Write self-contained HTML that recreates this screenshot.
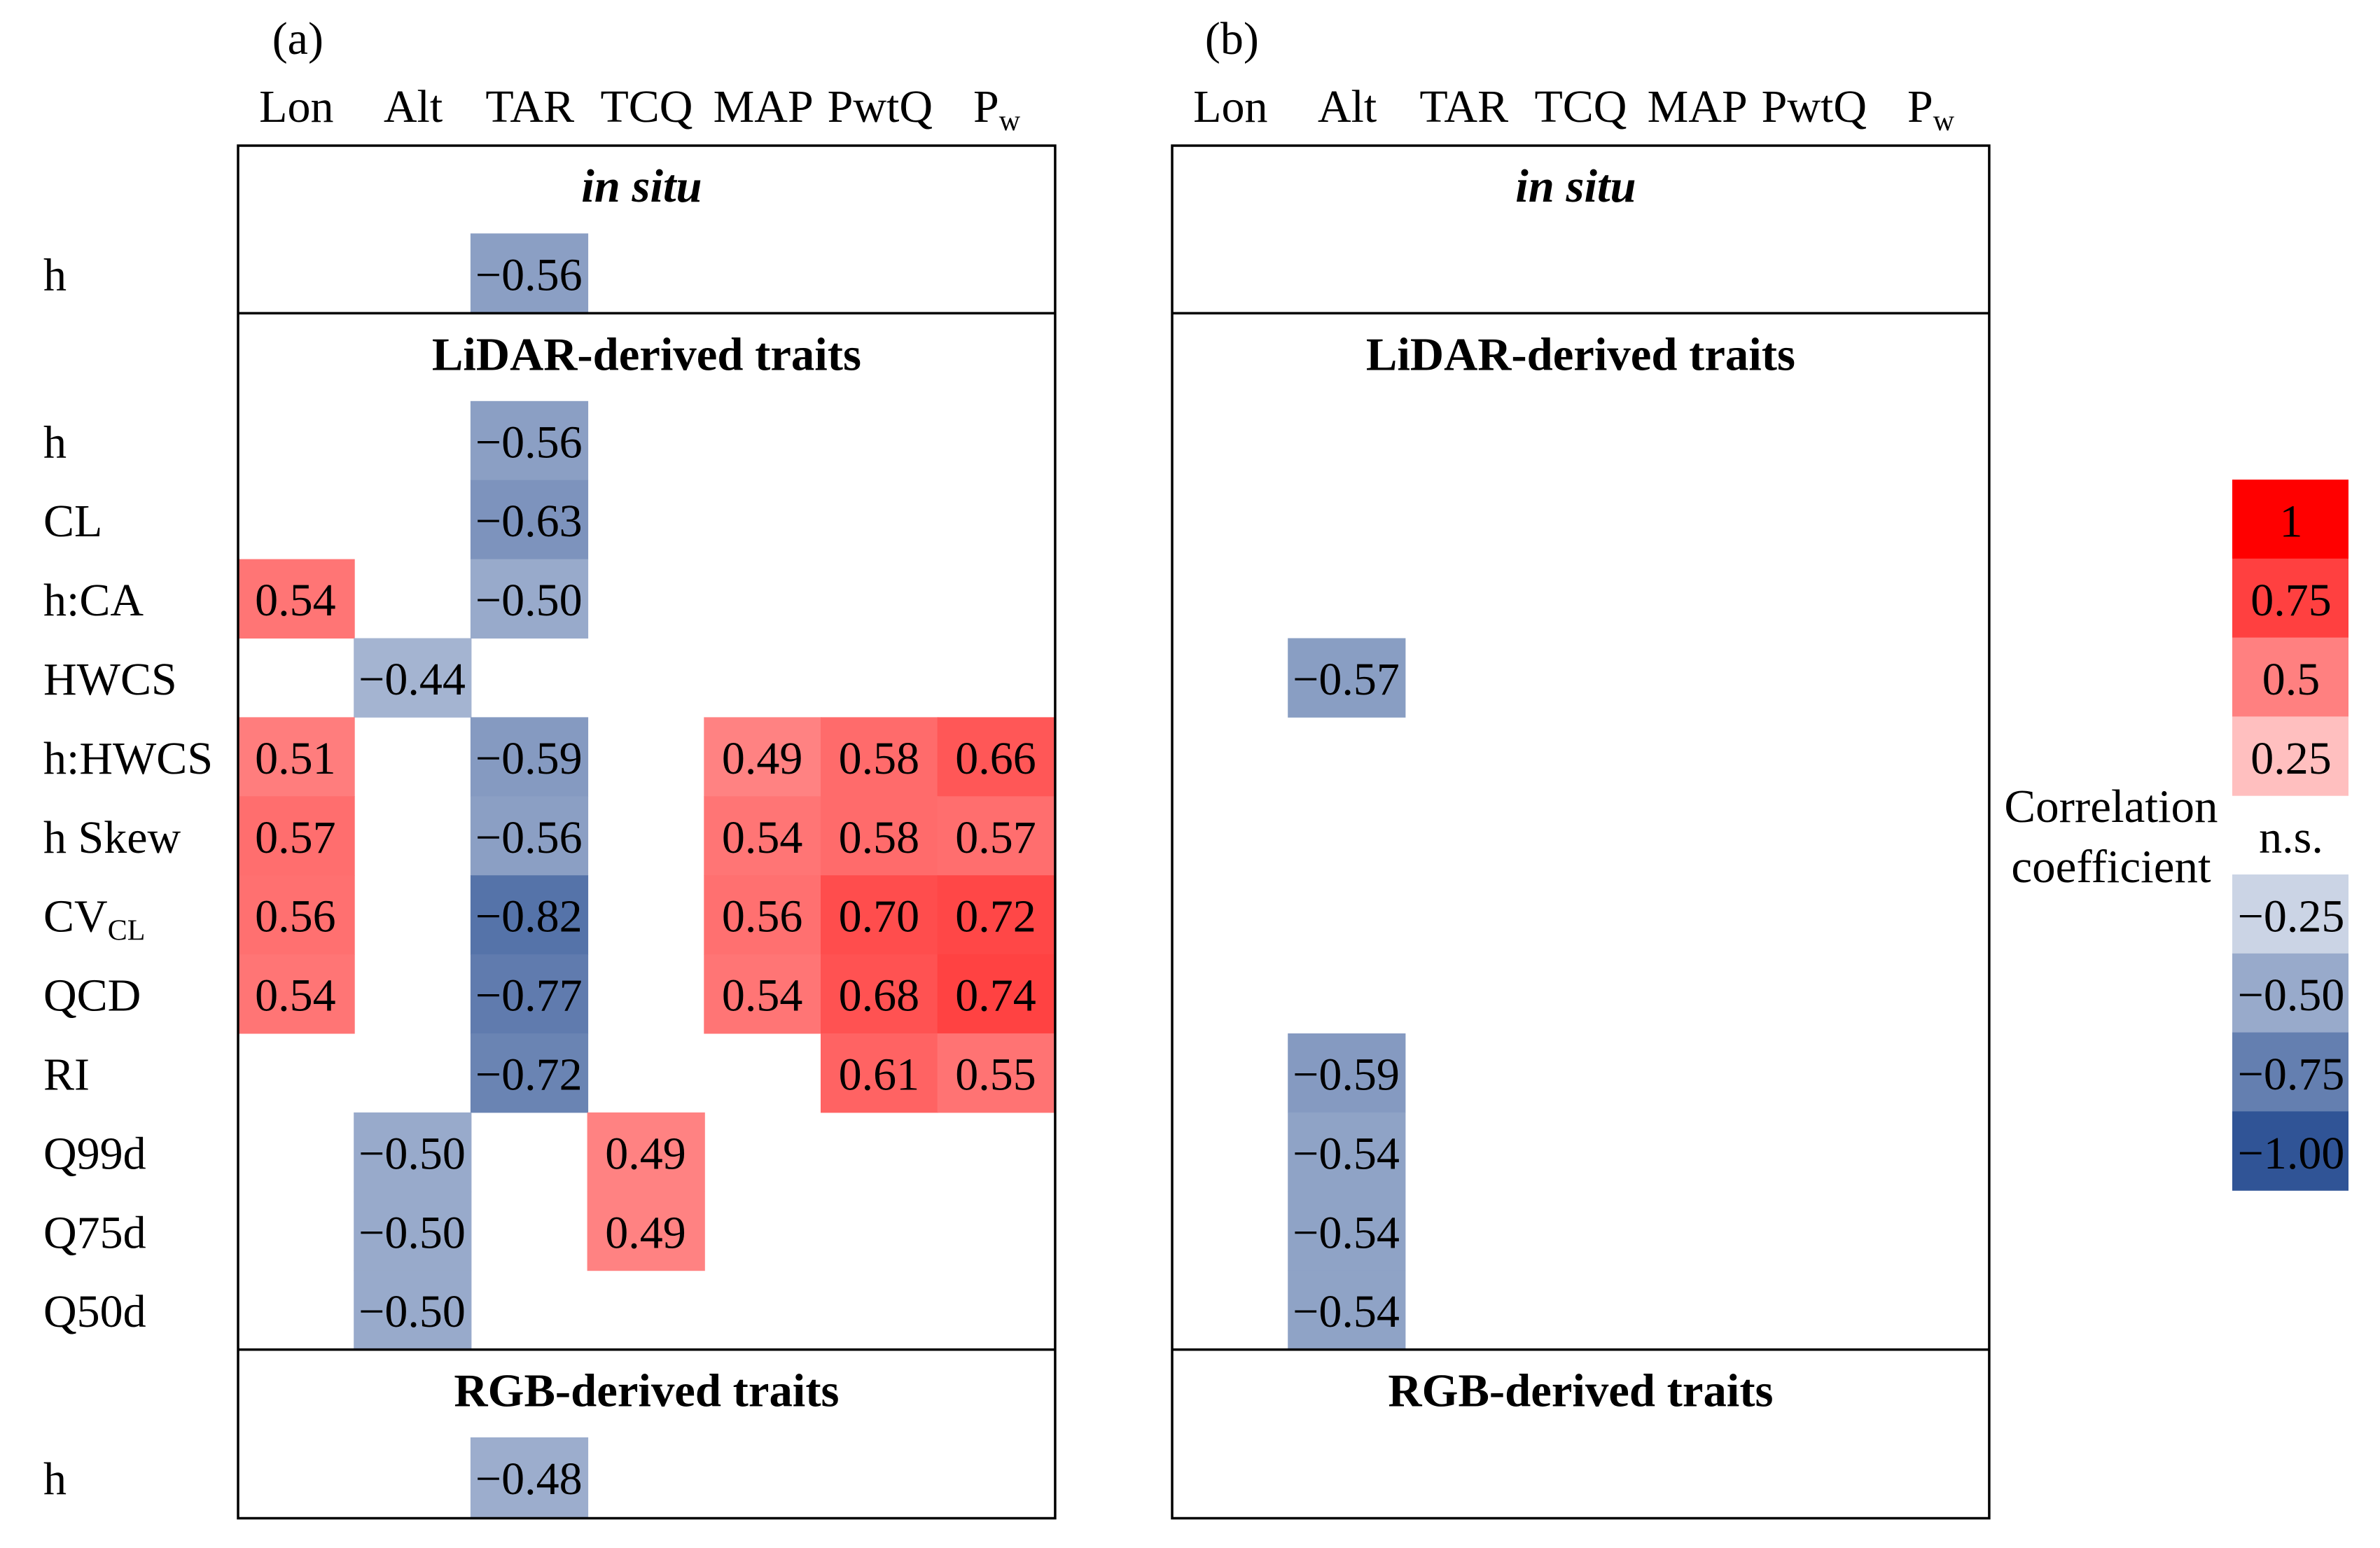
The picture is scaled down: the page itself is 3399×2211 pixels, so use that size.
<!DOCTYPE html>
<html lang="en">
<head>
<meta charset="utf-8">
<title>Correlation heatmaps</title>
<style>
html,body{margin:0;padding:0;background:#fff;}
svg{display:block;}
text{font-family:"Liberation Serif","Times New Roman",serif;fill:#000;}
</style>
</head>
<body>
<svg id="chart" xmlns="http://www.w3.org/2000/svg" width="3399" height="2211" viewBox="0 0 3399 2211">
  <rect x="0" y="0" width="3399" height="2211" fill="#ffffff"/>
  <g id="cells"></g>
  <g id="frames"></g>
  <g id="labels"></g>
  <g id="legend"></g>
  <text x="3015" y="1174" font-size="67" text-anchor="middle">Correlation</text>
  <text x="3015" y="1260" font-size="67" text-anchor="middle">coefficient</text>
</svg>
<script>
const panelNames = ['(a)', '(b)'];
const columns = ['Lon', 'Alt', 'TAR', 'TCQ', 'MAP', 'PwtQ', 'Pw'];
const sections = ['in situ', 'LiDAR-derived traits', 'RGB-derived traits'];
const rowLabels = ['h', 'h', 'CL', 'h:CA', 'HWCS', 'h:HWCS', 'h Skew', 'CVCL', 'QCD', 'RI', 'Q99d', 'Q75d', 'Q50d', 'h'];
const rowSections = [0, 1, 1, 1, 1, 1, 1, 1, 1, 1, 1, 1, 1, 2];
const panelAValues = [
  [null, null, -0.56, null, null, null, null],
  [null, null, -0.56, null, null, null, null],
  [null, null, -0.63, null, null, null, null],
  [0.54, null, -0.50, null, null, null, null],
  [null, -0.44, null, null, null, null, null],
  [0.51, null, -0.59, null, 0.49, 0.58, 0.66],
  [0.57, null, -0.56, null, 0.54, 0.58, 0.57],
  [0.56, null, -0.82, null, 0.56, 0.70, 0.72],
  [0.54, null, -0.77, null, 0.54, 0.68, 0.74],
  [null, null, -0.72, null, null, 0.61, 0.55],
  [null, -0.50, null, 0.49, null, null, null],
  [null, -0.50, null, 0.49, null, null, null],
  [null, -0.50, null, null, null, null, null],
  [null, null, -0.48, null, null, null, null]
];
const panelBValues = [
  [null, null, null, null, null, null, null],
  [null, null, null, null, null, null, null],
  [null, null, null, null, null, null, null],
  [null, null, null, null, null, null, null],
  [null, -0.57, null, null, null, null, null],
  [null, null, null, null, null, null, null],
  [null, null, null, null, null, null, null],
  [null, null, null, null, null, null, null],
  [null, null, null, null, null, null, null],
  [null, -0.59, null, null, null, null, null],
  [null, -0.54, null, null, null, null, null],
  [null, -0.54, null, null, null, null, null],
  [null, -0.54, null, null, null, null, null],
  [null, null, null, null, null, null, null]
];
const legendValues = [1, 0.75, 0.5, 0.25, null, -0.25, -0.5, -0.75, -1];
const legendLabels = ['1', '0.75', '0.5', '0.25', 'n.s.', '\u22120.25', '\u22120.50', '\u22120.75', '\u22121.00'];

const NS = 'http://www.w3.org/2000/svg';
const FONT = 66;
const BOLD_FONT = 66.7;
const PANEL_X = [340, 1674];
const COL_W = 166.7;
const CELL_SHIFT = -1.5;
const FRAME_TOP = 208;
const FRAME_BOTTOM = 2168.5;
const HEADER_H = 125.4;
const SINGLE_ROW_H = 114;
const ROW_H = 112.9;
const LEGEND_X = 3188;
const LEGEND_W = 166;
const LEGEND_TOP = 685;
const LEGEND_STEP = 112.8;

function xScale(panel, col) { return PANEL_X[panel] + col * COL_W; }
function rowHeight(row) {
  const sec = rowSections[row];
  const count = rowSections.filter(function (s) { return s === sec; }).length;
  return count === 1 ? SINGLE_ROW_H : ROW_H;
}
function yScale(row) {
  let y = FRAME_TOP + HEADER_H * (rowSections[row] + 1);
  for (let i = 0; i < row; i++) y += rowHeight(i);
  return y;
}
function sectionTop(s) {
  const first = rowSections.indexOf(s);
  return yScale(first) - HEADER_H;
}
function colorFor(v) {
  const a = Math.min(1, Math.abs(v));
  if (v >= 0) {
    const c = Math.round(255 * (1 - a));
    return 'rgb(255,' + c + ',' + c + ')';
  }
  const r = Math.round(255 - a * (255 - 48));
  const g = Math.round(255 - a * (255 - 84));
  const b = Math.round(255 - a * (255 - 150));
  return 'rgb(' + r + ',' + g + ',' + b + ')';
}
function formatValue(v) {
  return (v < 0 ? '\u2212' : '') + Math.abs(v).toFixed(2);
}
function svgEl(tag, parent) {
  const el = document.createElementNS(NS, tag);
  parent.appendChild(el);
  return el;
}
function setAll(el, props) {
  Object.keys(props).forEach(function (k) { el.setAttribute(k, props[k]); });
}

const cellsG = document.getElementById('cells');
const framesG = document.getElementById('frames');
const labelsG = document.getElementById('labels');
const legendG = document.getElementById('legend');

[panelAValues, panelBValues].forEach(function (matrix, p) {
  matrix.forEach(function (vals, r) {
    vals.forEach(function (v, c) {
      if (v === null) return;
      const h = rowHeight(r);
      const rect = svgEl('rect', cellsG);
      
      
      setAll(rect, { x: xScale(p, c) + CELL_SHIFT, y: yScale(r), width: COL_W + 1.5, height: h + 0.5, fill: colorFor(v) });
      const t = svgEl('text', cellsG);
      
      
      setAll(t, { x: xScale(p, c) + COL_W / 2 + CELL_SHIFT, y: yScale(r) + h / 2 + 24, 'font-size': FONT, 'text-anchor': 'middle' });
      t.textContent = formatValue(v);
    });
  });
});

panelNames.forEach(function (name, p) {
  const right = xScale(p, columns.length);
  const frame = svgEl('rect', framesG);
  
  
  setAll(frame, { x: PANEL_X[p], y: FRAME_TOP, width: right - PANEL_X[p], height: FRAME_BOTTOM - FRAME_TOP, fill: 'none', stroke: '#000', 'stroke-width': 3.5 });

  [1, 2].forEach(function (s) {
    const line = svgEl('line', framesG);
    
    
    setAll(line, { x1: PANEL_X[p], x2: right, y1: sectionTop(s), y2: sectionTop(s), stroke: '#000', 'stroke-width': 3.5 });
  });

  sections.forEach(function (sec, s) {
    const t = svgEl('text', labelsG);
    
    
    const shift = s === 0 ? -7 : 0;
    const dy = s === 0 ? 80 : 81;
    setAll(t, { x: (PANEL_X[p] + right) / 2 + shift, y: sectionTop(s) + dy, 'font-size': BOLD_FONT, 'font-weight': 'bold', 'text-anchor': 'middle' });
    if (s === 0) t.setAttribute('font-style', 'italic');
    t.textContent = sec;
  });

  const title = svgEl('text', labelsG);
  
  
  setAll(title, { x: xScale(p, 0) + COL_W / 2 + 2, y: 77, 'font-size': FONT, 'text-anchor': 'middle' });
  title.textContent = name;

  columns.forEach(function (col, c) {
    const t = svgEl('text', labelsG);
    
    
    setAll(t, { x: xScale(p, c) + COL_W / 2, y: 174, 'font-size': FONT, 'text-anchor': 'middle' });
    if (col === 'Pw') {
      t.textContent = 'P';
      const sub = svgEl('tspan', t);
      setAll(sub, { 'font-size': 42, dy: 12 });
      sub.textContent = 'w';
    } else {
      t.textContent = col;
    }
  });
});

rowLabels.forEach(function (label, r) {
  const t = svgEl('text', labelsG);
  
  
  setAll(t, { x: 62, y: yScale(r) + rowHeight(r) / 2 + 24, 'font-size': FONT });
  if (label === 'CVCL') {
    t.textContent = 'CV';
    const sub = svgEl('tspan', t);
    setAll(sub, { 'font-size': 42, dy: 12 });
    sub.textContent = 'CL';
  } else {
    t.textContent = label;
  }
});

legendValues.forEach(function (v, i) {
  const y = LEGEND_TOP + i * LEGEND_STEP;
  if (v !== null) {
    const rect = svgEl('rect', legendG);
    
    
    setAll(rect, { x: LEGEND_X, y: y, width: LEGEND_W, height: LEGEND_STEP + 0.5, fill: colorFor(v) });
  }
  const t = svgEl('text', legendG);
  
  
  setAll(t, { x: LEGEND_X + LEGEND_W / 2 + 1, y: y + LEGEND_STEP / 2 + 25, 'font-size': FONT, 'text-anchor': 'middle' });
  t.textContent = legendLabels[i];
});
</script>
</body>
</html>
